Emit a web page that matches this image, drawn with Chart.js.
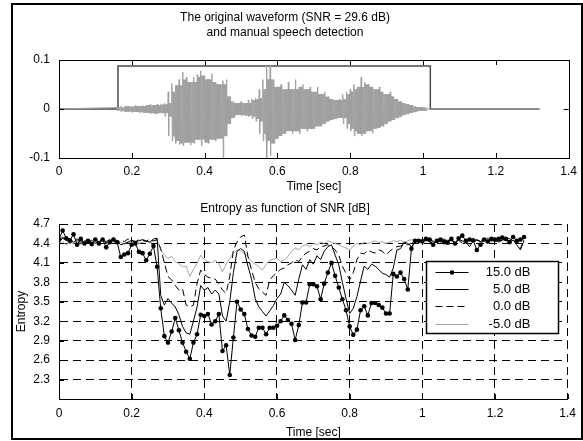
<!DOCTYPE html>
<html>
<head>
<meta charset="utf-8">
<script src="https://cdn.jsdelivr.net/npm/chart.js@4.4.1/dist/chart.umd.min.js"></script>
<style>
  html, body { margin: 0; padding: 0; background: #fff; }
  #page { position: relative; width: 583px; height: 441px; overflow: hidden; background: #fff; }
  #frame { position: absolute; left: 11px; top: 3px; width: 572px; height: 437px; border: 2px solid #000; box-sizing: border-box; }
  canvas { position: absolute; left: 0; }
  #chart-wave { top: 0; }
  #chart-entropy { top: 196px; }
</style>
</head>
<body>
<div id="page">
  <div id="frame"></div>
  <canvas id="chart-wave" width="583" height="196"></canvas>
  <canvas id="chart-entropy" width="583" height="245"></canvas>
</div>
<script>
// tick labels
const timeTicks = [0, 0.2, 0.4, 0.6, 0.8, 1, 1.2, 1.4];
const waveTicks = [-0.1, 0, 0.1];
const entropyTicks = [2.3, 2.6, 2.9, 3.2, 3.5, 3.8, 4.1, 4.4, 4.7];

// waveform envelope, one max/min pair per 10 ms from 0.16 s to 1.00 s
const waveStart = 0.16, waveStep = 0.01, waveEnd = 1.32;
const waveMax = [
  .003, .006, .005, .006, .005, .007, .006, .007, .008, .009,
  .008, .010, .009, .012, .035, .052, .048, .060, .075, .065,
  .055, .065, .070, .078, .068, .060, .072, .055, .050, .058,
  .060, .025, .015, .012, .015, .012, .018, .020, .022, .040,
  .060, .090, .088, .060, .045, .050, .040, .055, .040, .060,
  .045, .050, .040, .045, .035, .045, .030, .035, .025, .020,
  .018, .020, .030, .035, .040, .050, .045, .065, .055, .050,
  .045, .040, .045, .035, .030, .035, .025, .020, .015, .012,
  .010, .008, .005, .004, .003
];
const waveMin = [
  -.003, -.006, -.006, -.005, -.007, -.006, -.008, -.007, -.008, -.010,
  -.009, -.010, -.008, -.015, -.055, -.065, -.070, -.072, -.075, -.068,
  -.074, -.070, -.062, -.075, -.068, -.070, -.062, -.065, -.060, -.100,
  -.055, -.030, -.018, -.012, -.014, -.013, -.015, -.020, -.025, -.050,
  -.065, -.100, -.095, -.070, -.060, -.055, -.050, -.045, -.050, -.045,
  -.050, -.040, -.045, -.040, -.040, -.035, -.035, -.030, -.025, -.022,
  -.020, -.018, -.030, -.040, -.045, -.055, -.050, -.055, -.050, -.045,
  -.050, -.040, -.038, -.035, -.030, -.025, -.022, -.018, -.015, -.012,
  -.010, -.008, -.006, -.004, -.003
];

// manual speech detection (step outline)
const detectTimes = [0, 0.162, 0.162, 1.02, 1.02, 1.32];
const detectLevel = [0, 0, 0.088, 0.088, 0, 0];

// entropy per 10 ms frame, 0 .. 1.28 s
const frameStep = 0.01;
const snrLabels = ['15.0 dB', '5.0 dB', '0.0 dB', '-5.0 dB'];
const entropy15 = [
  4.46, 4.60, 4.48, 4.45, 4.54, 4.38, 4.47, 4.40, 4.44, 4.39,
  4.46, 4.40, 4.46, 4.34, 4.42, 4.46, 4.42, 4.19, 4.23, 4.25,
  4.38, 4.40, 4.27, 4.25, 4.14, 4.24, 4.36, 4.04, 3.40, 2.97,
  2.87, 3.04, 3.25, 3.06, 2.87, 2.73, 2.62, 2.87, 3.00, 3.30,
  3.28, 3.31, 3.15, 3.20, 3.31, 2.74, 2.83, 2.37, 2.95, 3.50,
  3.38, 3.31, 3.08, 2.98, 2.96, 3.10, 3.10, 3.00, 3.10, 3.10,
  3.13, 3.20, 3.29, 3.22, 3.16, 2.91, 3.14, 3.49, 3.49, 3.77,
  3.77, 3.74, 3.54, 3.78, 3.95, 4.10, 3.90, 3.72, 3.54, 3.37,
  3.12, 2.99, 3.07, 3.37, 3.43, 3.29, 3.48, 3.48, 3.45, 3.41,
  3.32, 3.32, 3.93, 3.89, 3.95, 3.85, 3.69, 4.32, 4.44, 4.44,
  4.43, 4.47, 4.46, 4.38, 4.44, 4.46, 4.42, 4.41, 4.47, 4.40,
  4.48, 4.52, 4.44, 4.46, 4.45, 4.30, 4.38, 4.46, 4.43, 4.47,
  4.46, 4.47, 4.49, 4.47, 4.42, 4.50, 4.44, 4.46, 4.50
];
const entropy5 = [
  4.45, 4.50, 4.44, 4.47, 4.42, 4.46, 4.40, 4.44, 4.42, 4.45,
  4.40, 4.43, 4.46, 4.41, 4.44, 4.48, 4.43, 4.38, 4.40, 4.42,
  4.45, 4.43, 4.44, 4.46, 4.44, 4.42, 4.47, 4.48, 3.60, 3.45,
  3.55, 3.48, 3.42, 3.30, 3.12, 3.02, 3.00, 3.20, 3.42, 3.75,
  3.68, 3.72, 3.62, 3.68, 3.62, 3.28, 3.20, 3.50, 3.95, 4.28,
  4.32, 4.28, 4.05, 3.85, 3.55, 3.42, 3.35, 3.28, 3.36, 3.44,
  3.55, 3.62, 3.80, 3.75, 3.68, 3.60, 3.85, 4.07, 4.00, 4.15,
  4.08, 4.21, 4.15, 4.28, 4.35, 4.38, 4.22, 4.07, 3.80, 3.55,
  3.32, 3.40, 3.58, 3.82, 4.05, 4.00, 4.08, 4.05, 4.00, 3.94,
  3.92, 3.88, 4.02, 4.30, 4.32, 4.42, 4.40, 4.35, 4.42, 4.45,
  4.45, 4.46, 4.42, 4.40, 4.45, 4.44, 4.47, 4.43, 4.45, 4.40,
  4.46, 4.44, 4.42, 4.35, 4.44, 4.46, 4.43, 4.45, 4.48, 4.44,
  4.46, 4.42, 4.45, 4.47, 4.43, 4.45, 4.38, 4.30, 4.45
];
const entropy0 = [
  4.42, 4.48, 4.45, 4.40, 4.44, 4.47, 4.43, 4.46, 4.41, 4.44,
  4.47, 4.42, 4.45, 4.43, 4.46, 4.44, 4.40, 4.45, 4.43, 4.47,
  4.44, 4.42, 4.46, 4.45, 4.43, 4.47, 4.44, 4.46, 4.32, 4.10,
  3.89, 3.84, 3.75, 3.68, 3.70, 3.45, 3.42, 3.45, 3.78, 3.99,
  3.92, 3.88, 3.86, 3.85, 3.78, 3.68, 3.63, 3.89, 4.30, 4.42,
  4.50, 4.53, 4.20, 3.99, 3.80, 3.70, 3.65, 3.60, 3.84, 3.90,
  3.95, 4.00, 4.02, 4.07, 4.10, 4.15, 4.12, 4.20, 4.25, 4.28,
  4.32, 4.30, 4.35, 4.36, 4.38, 4.35, 4.30, 4.22, 4.05, 3.94,
  3.84, 3.95, 4.15, 4.25, 4.24, 4.30, 4.27, 4.25, 4.30, 4.28,
  4.22, 4.28, 4.32, 4.35, 4.36, 4.38, 4.38, 4.40, 4.43, 4.44,
  4.45, 4.44, 4.46, 4.43, 4.45, 4.42, 4.46, 4.44, 4.47, 4.43,
  4.45, 4.40, 4.44, 4.46, 4.42, 4.45, 4.43, 4.46, 4.44, 4.47,
  4.43, 4.45, 4.44, 4.46, 4.48, 4.42, 4.45, 4.32, 4.46
];
const entropyM5 = [
  4.40, 4.43, 4.38, 4.42, 4.40, 4.44, 4.39, 4.41, 4.43, 4.38,
  4.42, 4.40, 4.44, 4.41, 4.39, 4.43, 4.40, 4.42, 4.38, 4.43,
  4.41, 4.44, 4.40, 4.42, 4.43, 4.41, 4.44, 4.45, 4.30, 4.22,
  4.17, 4.20, 4.12, 4.09, 4.04, 4.05, 3.89, 4.00, 4.09, 4.22,
  4.15, 4.12, 4.10, 4.14, 4.09, 3.96, 4.08, 4.17, 4.25, 4.30,
  4.28, 4.25, 4.20, 4.12, 4.08, 4.04, 3.99, 4.08, 4.14, 4.16,
  4.17, 4.12, 4.15, 4.20, 4.28, 4.33, 4.30, 4.36, 4.38, 4.35,
  4.40, 4.38, 4.42, 4.40, 4.44, 4.42, 4.40, 4.38, 4.35, 4.33,
  4.30, 4.36, 4.40, 4.38, 4.42, 4.40, 4.42, 4.44, 4.41, 4.43,
  4.40, 4.42, 4.44, 4.43, 4.45, 4.42, 4.44, 4.46, 4.43, 4.44,
  4.45, 4.43, 4.46, 4.44, 4.42, 4.45, 4.43, 4.46, 4.44, 4.41,
  4.45, 4.43, 4.40, 4.44, 4.42, 4.45, 4.43, 4.46, 4.44, 4.42,
  4.45, 4.43, 4.46, 4.44, 4.42, 4.45, 4.43, 4.44, 4.46
];

const FONT = '"Liberation Sans", Arial, Helvetica, sans-serif';
Chart.defaults.font.family = FONT;
Chart.defaults.font.size = 12;
Chart.defaults.color = '#000';

const fmt = v => String(+v.toFixed(2));
const setTicks = list => scale => { scale.ticks = list.map(v => ({ value: v })); };

function toPoints(values) {
  return values.map((v, i) => ({ x: +(i * frameStep).toFixed(2), y: v }));
}

// each bin: one stroke to its own peaks, the rest at the quieter neighbour level,
// so loud bins stick out as spikes above a dense core
function wavePoints() {
  const pts = [{ x: 0, y: 0 }];
  const sub = 8;
  const n = waveMax.length;
  waveMax.forEach((hi, i) => {
    const lo = waveMin[i];
    const nb = [i - 1, i, i + 1].filter(j => j >= 0 && j < n);
    const coreHi = Math.min(...nb.map(j => waveMax[j]));
    const coreLo = Math.max(...nb.map(j => waveMin[j]));
    const t = waveStart + i * waveStep;
    for (let k = 0; k < sub; k++) {
      const peak = k < 2;
      const y = k % 2 ? (peak ? lo : coreLo) : (peak ? hi : coreHi);
      pts.push({ x: t + k * waveStep / sub, y });
    }
  });
  pts.push({ x: waveStart + n * waveStep, y: 0 }, { x: waveEnd, y: 0 });
  return pts;
}

// inward tick marks like the original plotting tool
function tickMarks(sides, boxed) {
  return {
    id: 'tickMarks',
    afterDraw(chart) {
      const { ctx, chartArea: a, scales } = chart;
      const len = 5;
      ctx.save();
      ctx.strokeStyle = '#000';
      ctx.lineWidth = 1;
      ctx.beginPath();
      scales.x.ticks.forEach(t => {
        const px = Math.round(scales.x.getPixelForValue(t.value)) + 0.5;
        if (sides.includes('bottom')) { ctx.moveTo(px, a.bottom); ctx.lineTo(px, a.bottom - len); }
        if (sides.includes('top')) { ctx.moveTo(px, a.top); ctx.lineTo(px, a.top + len); }
      });
      scales.y.ticks.forEach(t => {
        const py = Math.round(scales.y.getPixelForValue(t.value)) + 0.5;
        if (sides.includes('left')) { ctx.moveTo(a.left, py); ctx.lineTo(a.left + len, py); }
        if (sides.includes('right')) { ctx.moveTo(a.right, py); ctx.lineTo(a.right - len, py); }
      });
      ctx.stroke();
      if (boxed) {
        ctx.strokeRect(Math.round(a.left) + 0.5, Math.round(a.top) + 0.5,
          Math.round(a.right - a.left), Math.round(a.bottom - a.top));
      }
      ctx.restore();
    }
  };
}

const legendBox = {
  id: 'legendBox',
  afterDatasetsDraw(chart) {
    const { ctx, chartArea: a } = chart;
    const w = 132, h = 72;
    const x = Math.round(a.right - 142) + 0.5, y = Math.round(a.top + 37) + 0.5;
    ctx.save();
    ctx.fillStyle = '#fff';
    ctx.fillRect(x, y, w, h);
    ctx.strokeStyle = '#000';
    ctx.lineWidth = 1.5;
    ctx.strokeRect(x, y, w, h);
    chart.data.datasets.forEach((ds, i) => {
      const cy = Math.round(y + 10 + i * 17.4) + 0.5;
      ctx.strokeStyle = ds.borderColor;
      ctx.lineWidth = ds.borderWidth;
      ctx.setLineDash(ds.borderDash || []);
      ctx.beginPath();
      ctx.moveTo(x + 9, cy);
      ctx.lineTo(x + 42, cy);
      ctx.stroke();
      ctx.setLineDash([]);
      if (ds.pointRadius) {
        ctx.fillStyle = ds.pointBackgroundColor;
        ctx.beginPath();
        ctx.arc(x + 25.5, cy, ds.pointRadius, 0, Math.PI * 2);
        ctx.fill();
      }
      ctx.fillStyle = '#000';
      ctx.font = '13px ' + FONT;
      ctx.textAlign = 'right';
      ctx.textBaseline = 'middle';
      ctx.fillText(ds.label, x + 104, cy);
    });
    ctx.restore();
  }
};

new Chart(document.getElementById('chart-wave'), {
  type: 'line',
  data: {
    datasets: [
      { label: 'waveform', data: wavePoints(), borderColor: '#a0a0a0', borderWidth: 1, pointRadius: 0 },
      {
        label: 'detection',
        data: detectTimes.map((t, i) => ({ x: t, y: detectLevel[i] })),
        borderColor: '#4a4a4a', borderWidth: 1.5, pointRadius: 0
      }
    ]
  },
  options: {
    animation: false,
    responsive: false,
    layout: { padding: { left: 0, right: 13, top: 0, bottom: 0 } },
    plugins: {
      legend: { display: false },
      tooltip: { enabled: false },
      title: {
        display: true,
        text: ['The original waveform (SNR = 29.6 dB)', 'and manual speech detection'],
        font: { size: 12, weight: 'normal', lineHeight: 1.25 },
        color: '#000',
        padding: { top: 10.5, bottom: 19.5 }
      }
    },
    scales: {
      x: {
        type: 'linear', min: 0, max: 1.4,
        afterBuildTicks: setTicks(timeTicks),
        afterFit: s => { s.height = 38; },
        grid: { display: false, drawTicks: false },
        border: { display: true, color: '#000', width: 1 },
        ticks: { padding: 6, callback: fmt, maxRotation: 0 },
        title: { display: true, text: 'Time [sec]', padding: { top: 0, bottom: 2 } }
      },
      y: {
        min: -0.1, max: 0.1,
        afterBuildTicks: setTicks(waveTicks),
        afterFit: s => { s.width = 59; },
        grid: { display: false, drawTicks: false },
        border: { display: true, color: '#000', width: 1 },
        ticks: { padding: 9, callback: fmt }
      }
    }
  },
  plugins: [tickMarks(['top', 'bottom', 'left', 'right'], true)]
});

new Chart(document.getElementById('chart-entropy'), {
  type: 'line',
  data: {
    datasets: [
      {
        label: snrLabels[0], data: toPoints(entropy15), borderColor: '#000', borderWidth: 1,
        pointRadius: 2.3, pointBackgroundColor: '#000', pointBorderWidth: 0, order: 0
      },
      { label: snrLabels[1], data: toPoints(entropy5), borderColor: '#000', borderWidth: 1, pointRadius: 0, order: 1 },
      {
        label: snrLabels[2], data: toPoints(entropy0), borderColor: '#000', borderWidth: 1,
        borderDash: [7, 4], pointRadius: 0, order: 2
      },
      { label: snrLabels[3], data: toPoints(entropyM5), borderColor: '#a6a6a6', borderWidth: 1, pointRadius: 0, order: 3 }
    ]
  },
  options: {
    animation: false,
    responsive: false,
    layout: { padding: { left: 0, right: 13, top: 0, bottom: 0 } },
    plugins: {
      legend: { display: false },
      tooltip: { enabled: false },
      title: {
        display: true,
        text: 'Entropy as function of SNR [dB]',
        font: { size: 12, weight: 'normal', lineHeight: 1.25 },
        color: '#000',
        padding: { top: 5.5, bottom: 7.5 }
      }
    },
    scales: {
      x: {
        type: 'linear', min: 0, max: 1.4,
        afterBuildTicks: setTicks(timeTicks),
        afterFit: s => { s.height = 42; },
        grid: { color: '#000', lineWidth: 1, drawTicks: false },
        border: { display: true, color: '#000', width: 1, dash: [8, 5] },
        ticks: { padding: 7, callback: fmt, maxRotation: 0 },
        title: { display: true, text: 'Time [sec]', padding: { top: 0, bottom: 1 } }
      },
      y: {
        min: 2.0, max: 4.7,
        afterBuildTicks: setTicks(entropyTicks),
        afterFit: s => { s.width = 59; },
        grid: { color: '#000', lineWidth: 1, drawTicks: false },
        border: { display: true, color: '#000', width: 1, dash: [8, 5] },
        ticks: { padding: 9, callback: v => v.toFixed(1) },
        title: { display: true, text: 'Entropy', padding: { top: 14, bottom: 0 } }
      }
    }
  },
  plugins: [tickMarks(['bottom', 'left'], false), legendBox]
});
</script>
</body>
</html>
